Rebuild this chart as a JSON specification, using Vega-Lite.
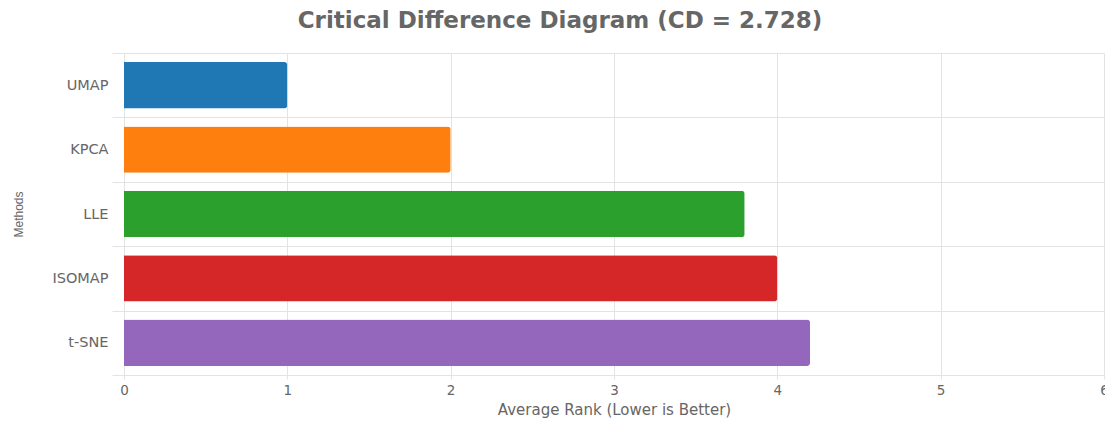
{
  "$schema": "https://vega.github.io/schema/vega-lite/v6.json",
  "width": 980,
  "height": 322,
  "autosize": {"type": "none"},
  "padding": {"left": 124, "top": 53, "right": 1, "bottom": 46},
  "background": "white",
  "title": {
    "text": "Critical Difference Diagram (CD = 2.728)",
    "font": "DejaVu Sans",
    "fontSize": 23,
    "fontWeight": "bold",
    "color": "#666666",
    "anchor": "middle",
    "dx": -54,
    "offset": 12
  },
  "data": {
    "values": [
      {"method": "UMAP", "rank": 1.0},
      {"method": "KPCA", "rank": 2.0},
      {"method": "LLE", "rank": 3.8},
      {"method": "ISOMAP", "rank": 4.0},
      {"method": "t-SNE", "rank": 4.2}
    ]
  },
  "mark": {"type": "bar", "height": {"band": 0.72}, "cornerRadiusEnd": 3},
  "encoding": {
    "y": {
      "field": "method",
      "type": "nominal",
      "sort": ["UMAP", "KPCA", "LLE", "ISOMAP", "t-SNE"],
      "scale": {"paddingInner": 0, "paddingOuter": 0},
      "axis": {
        "title": "Methods",
        "titleFont": "Liberation Sans",
        "titleFontSize": 12,
        "titleFontWeight": "normal",
        "titleColor": "#666666",
        "titlePadding": 26,
        "labelFont": "DejaVu Sans",
        "labelFontSize": 14.5,
        "labelColor": "#666666",
        "labelPadding": 4,
        "tickBand": "extent",
        "tickSize": 12,
        "tickColor": "#e3e3e3",
        "grid": true,
        "gridColor": "#e3e3e3",
        "domain": true,
        "domainColor": "#e3e3e3"
      }
    },
    "x": {
      "field": "rank",
      "type": "quantitative",
      "scale": {"domain": [0, 6], "nice": false},
      "axis": {
        "title": "Average Rank (Lower is Better)",
        "titleFont": "DejaVu Sans",
        "titleFontSize": 15,
        "titleFontWeight": "normal",
        "titleColor": "#666666",
        "titlePadding": 6,
        "values": [0, 1, 2, 3, 4, 5, 6],
        "format": "d",
        "labelFlush": false,
        "labelFont": "DejaVu Sans",
        "labelFontSize": 13.5,
        "labelColor": "#666666",
        "labelPadding": 4,
        "tickSize": 4,
        "tickColor": "#e3e3e3",
        "grid": true,
        "gridColor": "#e3e3e3",
        "domainColor": "#e3e3e3"
      }
    },
    "color": {
      "field": "method",
      "type": "nominal",
      "scale": {
        "domain": ["UMAP", "KPCA", "LLE", "ISOMAP", "t-SNE"],
        "range": ["#1f77b4", "#ff7f0e", "#2ca02c", "#d62728", "#9467bd"]
      },
      "legend": null
    }
  },
  "config": {"view": {"stroke": null}}
}
